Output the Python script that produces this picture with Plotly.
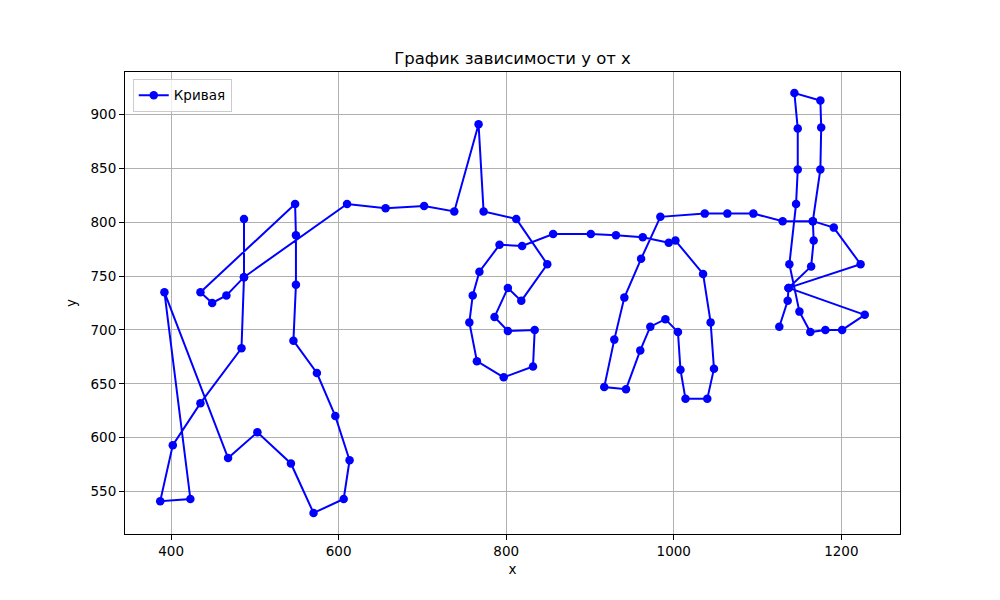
import plotly.graph_objects as go

# точки кривой в порядке обхода
x_vals = [487, 487, 484, 435, 402, 387, 423, 392, 468, 503, 543, 570, 606, 613, 596, 574,
          546, 549, 549, 548, 435, 449, 466, 487, 610, 656, 702, 738, 767, 773, 812, 849,
          818, 802, 786, 802, 834, 832, 797, 765, 756, 760, 768, 792, 819, 856, 901, 931,
          963, 994, 1002, 1035, 1044, 1048, 1040, 1014, 1008, 1005, 990, 972, 960, 943, 917, 929,
          941, 961, 984, 1037, 1064, 1095, 1130, 1166, 1191, 1223, 1137, 1228, 1201, 1181, 1163, 1150,
          1138, 1146, 1148, 1148, 1144, 1175, 1176, 1175, 1166, 1167, 1164, 1137, 1136, 1126]
y_vals = [803, 749, 683, 632, 593, 541, 543, 735, 581, 605, 576, 530, 543, 579, 620, 660,
          690, 742, 788, 817, 735, 725, 732, 749, 817, 813, 815, 810, 891, 810, 803, 761,
          727, 739, 712, 699, 700, 666, 656, 671, 707, 732, 754, 779, 778, 789, 789, 788,
          786, 781, 783, 752, 707, 664, 636, 636, 663, 698, 710, 703, 681, 645, 647, 691,
          730, 766, 805, 808, 808, 808, 801, 801, 795, 761, 739, 714, 700, 700, 698, 717,
          761, 817, 849, 887, 920, 913, 888, 849, 801, 783, 759, 739, 727, 703]

x_ticks = [400, 600, 800, 1000, 1200]
y_ticks = [550, 600, 650, 700, 750, 800, 850, 900]


def padded(vals, frac=0.05):
    lo, hi = min(vals), max(vals)
    pad = (hi - lo) * frac
    return [lo - pad, hi + pad]


fig = go.Figure()
fig.add_trace(go.Scatter(
    x=x_vals, y=y_vals,
    mode='lines+markers',
    name='Кривая',
    line=dict(color='#0000ff', width=2),
    marker=dict(color='#0000ff', size=8.5),
))

axis_style = dict(
    showline=True, linecolor='black', linewidth=1.1, mirror=True,
    ticks='outside', ticklen=5, tickwidth=1.1, tickcolor='black',
    showgrid=True, gridcolor='#b0b0b0', gridwidth=1.1,
    zeroline=False,
    tickfont=dict(size=13.5, color='black'),
    title_font=dict(size=13.5, color='black'),
)

# страница имеет отступ 8px, поэтому поля сдвинуты
fig.update_layout(
    width=1000, height=600,
    margin=dict(l=117, r=108, t=64, b=74),
    paper_bgcolor='white', plot_bgcolor='white',
    font=dict(family='DejaVu Sans', color='black'),
    title=dict(text='График зависимости y от x', x=0.5, xref='paper',
               y=1 - 50 / 600, yref='container', yanchor='middle',
               font=dict(size=16.5, color='black')),
    xaxis=dict(range=padded(x_vals), tickvals=x_ticks, title=dict(text='x', standoff=6), **axis_style),
    yaxis=dict(range=padded(y_vals), tickvals=y_ticks, title=dict(text='y', standoff=10), **axis_style),
    legend=dict(x=0.01, y=0.985, xanchor='left', yanchor='top',
                bordercolor='#cccccc', borderwidth=1, bgcolor='rgba(255,255,255,0.8)',
                font=dict(size=13.5, color='black')),
    showlegend=True,
)

fig.write_html("out.html")
